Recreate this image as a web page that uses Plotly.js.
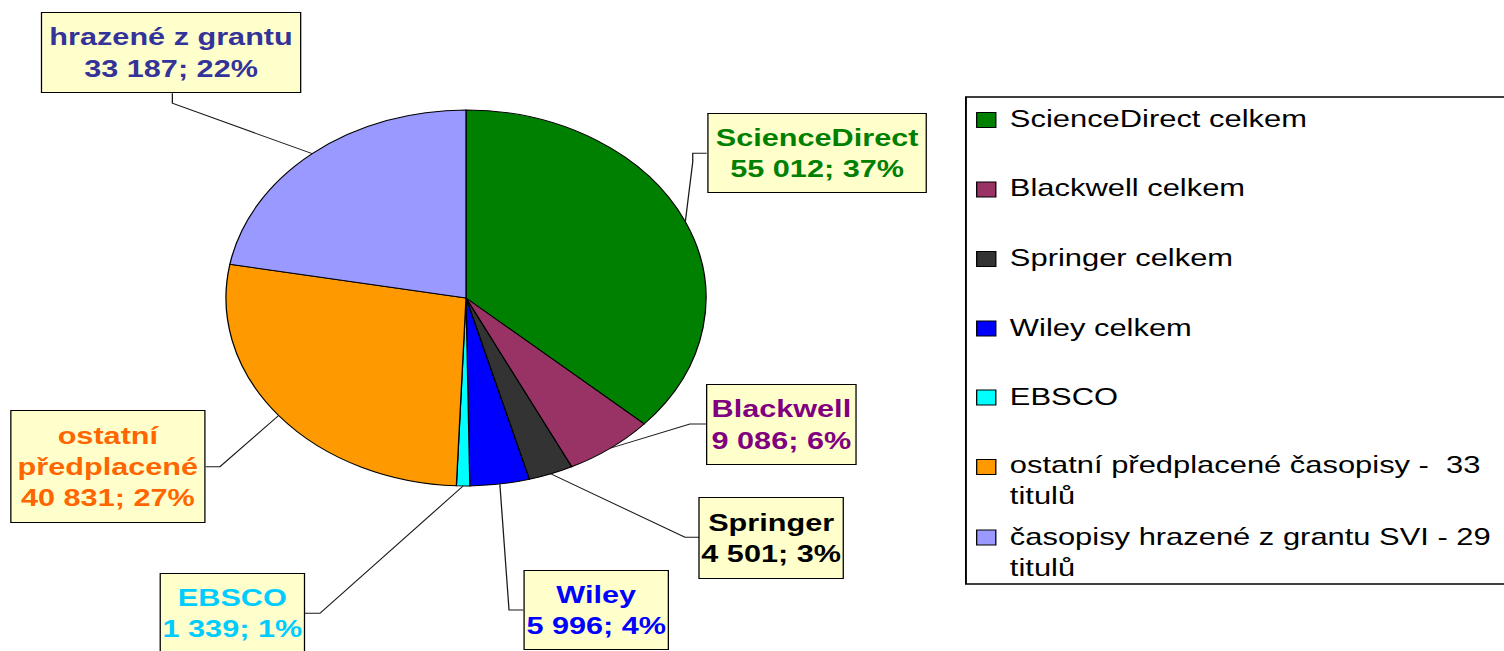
<!DOCTYPE html>
<html>
<head>
<meta charset="utf-8">
<script src="https://cdn.plot.ly/plotly-3.0.1.min.js"></script>
<style>
html,body{margin:0;padding:0;overflow:hidden;background:#ffffff;}
#chart{width:1178px;height:651px;transform:scaleX(1.2767);transform-origin:0 0;}
</style>
</head>
<body>
<div id="chart"></div>
<script>
// ---- data ----
const categories = [
  "ScienceDirect celkem",
  "Blackwell celkem",
  "Springer celkem",
  "Wiley celkem",
  "EBSCO",
  "ostatní předplacené časopisy -  33<br>titulů",
  "časopisy hrazené z grantu SVI - 29<br>titulů"
];
const shortLabels = ["ScienceDirect", "Blackwell", "Springer", "Wiley", "EBSCO", "ostatní<br>předplacené", "hrazené z grantu"];
const values = [55012, 9086, 4501, 5996, 1339, 40831, 33187];

// ---- style ----
const sliceColors = ["#008000", "#993366", "#333333", "#0000FF", "#00FFFF", "#FF9900", "#9999FF"];
const labelColors = ["#008000", "#800080", "#000000", "#0000FF", "#00CCFF", "#FF6600", "#333399"];
const FONT = "Arial, 'Liberation Sans', sans-serif";

// ---- layout geometry (unscaled px) ----
const W = 1178, H = 651;
const PC = {x: 365, y: 298, r: 188};
const boxes = [
  {cx: 639.7, cy: 152.9, w: 172, h: 80,  leg: [[542.6, 162], [542.6, 153.3], [553.5, 153.3]]},
  {cx: 612.3, cy: 424.5, w: 118, h: 81,  leg: [[540.4, 424], [553.5, 424]]},
  {cx: 604.4, cy: 538.0, w: 114, h: 82,  leg: [[536.5, 537.3], [547.5, 537.3]]},
  {cx: 467.0, cy: 610.0, w: 114, h: 80,  leg: [[398.7, 610], [409.9, 610]]},
  {cx: 181.8, cy: 613.3, w: 114, h: 80,  leg: [[250.6, 613.3], [238.9, 613.3]]},
  {cx: 84.5,  cy: 466.7, w: 153, h: 113, leg: [[172.3, 466.7], [161.1, 466.7]]},
  {cx: 133.9, cy: 52.7,  w: 204, h: 81,  leg: [[135, 103.3], [135, 93.3]]}
];
// legend layout (unscaled px)
const LEG = {x0: 756.6, y0: 97, y1: 584, symX: 772.5, sym: 15, textX: 788.5,
             textY: [118.8, 188, 257.5, 327, 397, 480, 551.5],
             symY:  [120, 189.5, 259, 328.5, 397.5, 467, 537.5]};

const px = v => v / W;
const py = v => 1 - v / H;

const total = values.reduce((a, b) => a + b, 0);
const fmt = v => String(v).replace(/\B(?=(\d{3})+(?!\d))/g, " ");

// mid-angle of each slice (clockwise from 12 o'clock)
let cum = 0;
const midAngles = values.map(v => { const a = (cum + v / 2) / total * 2 * Math.PI; cum += v; return a; });

const annotations = [];
const shapes = [];

// legend frame
shapes.push({type: "rect", xref: "paper", yref: "paper",
  x0: px(LEG.x0), x1: px(W + 20), y0: py(LEG.y1), y1: py(LEG.y0),
  line: {color: "#000000", width: 1.5}, fillcolor: "rgba(0,0,0,0)"});

values.forEach((v, i) => {
  const b = boxes[i];
  const pct = Math.round(v / total * 100);
  annotations.push({
    xref: "paper", yref: "paper", x: px(b.cx), y: py(b.cy), xanchor: "center", yanchor: "middle",
    text: shortLabels[i] + "<br>" + fmt(v) + "; " + pct + "%",
    showarrow: false, align: "center", valign: "middle",
    width: b.w - 4, height: b.h - 4,
    bgcolor: "#FFFFCC", bordercolor: "#000000", borderwidth: 1, borderpad: 1,
    font: {family: FONT, size: 24, color: labelColors[i], weight: "bold"}
  });
  const sx = PC.x + PC.r * Math.sin(midAngles[i]);
  const sy = PC.y - PC.r * Math.cos(midAngles[i]);
  let path = "M" + px(sx) + "," + py(sy);
  b.leg.forEach(p => { path += " L" + px(p[0]) + "," + py(p[1]); });
  shapes.push({type: "path", xref: "paper", yref: "paper", path: path, line: {color: "#1a1a1a", width: 1}});

  // legend entry
  const h = LEG.sym / 2;
  shapes.push({type: "rect", xref: "paper", yref: "paper",
    x0: px(LEG.symX - h), x1: px(LEG.symX + h), y0: py(LEG.symY[i] + h), y1: py(LEG.symY[i] - h),
    fillcolor: sliceColors[i], line: {color: "#000000", width: 1}});
  annotations.push({
    xref: "paper", yref: "paper", x: px(LEG.textX), y: py(LEG.textY[i]), xanchor: "left", yanchor: "middle",
    text: categories[i], showarrow: false, align: "left",
    font: {family: FONT, size: 24.2, color: "#000000"}
  });
});

const trace = {
  type: "pie",
  labels: categories,
  values: values,
  sort: false,
  direction: "clockwise",
  rotation: 0,
  textinfo: "none",
  hoverinfo: "label+value+percent",
  marker: {colors: sliceColors, line: {color: "#000000", width: 1}},
  domain: {x: [px(PC.x - PC.r), px(PC.x + PC.r)], y: [py(PC.y + PC.r), py(PC.y - PC.r)]}
};

const layout = {
  width: W, height: H,
  margin: {l: 0, r: 0, t: 0, b: 0},
  paper_bgcolor: "#ffffff",
  plot_bgcolor: "#ffffff",
  showlegend: false,
  annotations: annotations,
  shapes: shapes
};

Plotly.newPlot("chart", [trace], layout, {displayModeBar: false, responsive: false});
</script>
</body>
</html>
